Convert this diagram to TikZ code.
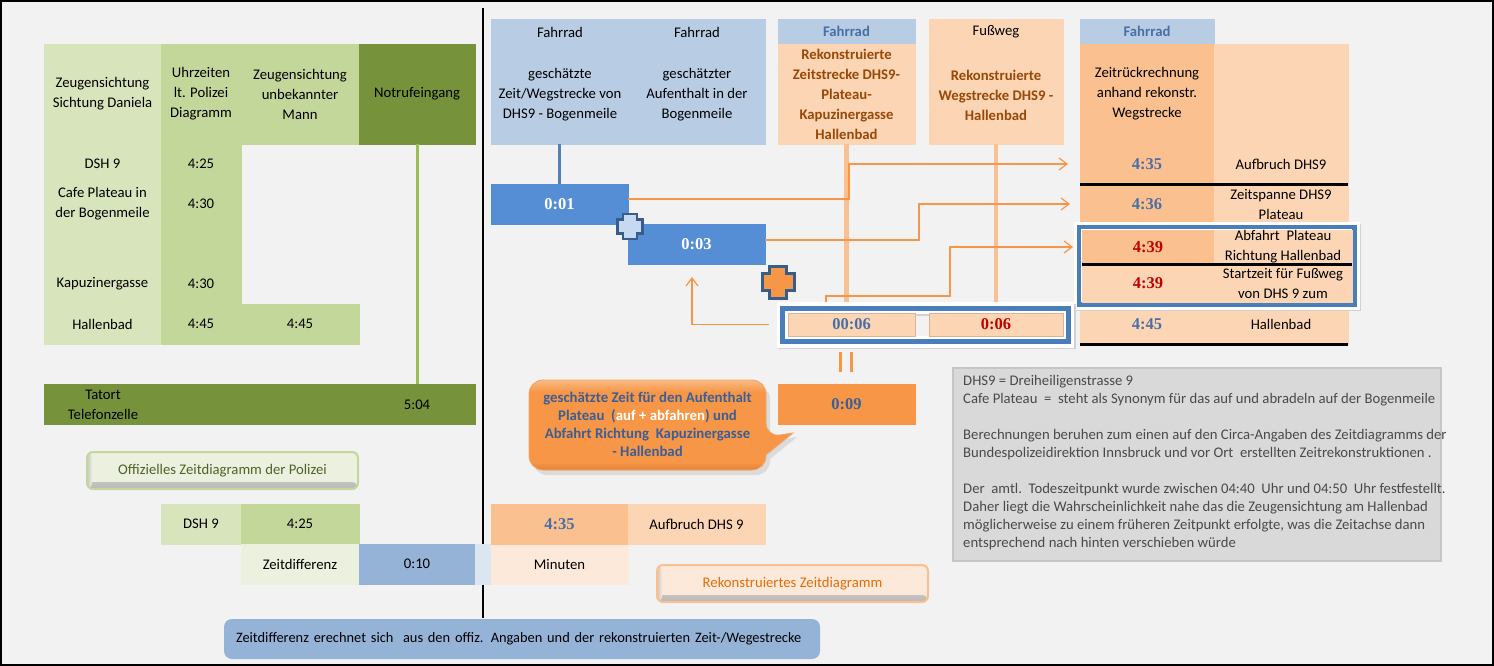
\documentclass[tikz,border=0pt]{standalone}
\usepackage{fontspec}
\setmainfont{Carlito}
\newfontfamily\numfont{Liberation Serif}
\usetikzlibrary{calc,arrows.meta}
\definecolor{bg}{HTML}{F2F2F2}
\definecolor{gA}{HTML}{D8E4BC}
\definecolor{gB}{HTML}{C4D79B}
\definecolor{gC}{HTML}{76933C}
\definecolor{gZ}{HTML}{EBF1DE}
\definecolor{gline}{HTML}{9BBB59}
\definecolor{olivet}{HTML}{4F6228}
\definecolor{bhead}{HTML}{B8CCE4}
\definecolor{bbox}{HTML}{558ED5}
\definecolor{bline}{HTML}{4F81BD}
\definecolor{bframe}{HTML}{4A7EBB}
\definecolor{bz}{HTML}{95B3D7}
\definecolor{bzl}{HTML}{DCE6F1}
\definecolor{pA}{HTML}{FCD5B4}
\definecolor{pB}{HTML}{FAC090}
\definecolor{pZ}{HTML}{FDE9D9}
\definecolor{pedge}{HTML}{D9B596}
\definecolor{orng}{HTML}{F79646}
\definecolor{orngt}{HTML}{E46C0A}
\definecolor{brownt}{HTML}{984807}
\definecolor{numblue}{HTML}{4A6FA5}
\definecolor{numred}{HTML}{C00000}
\definecolor{calltext}{HTML}{3A5F96}
\definecolor{noteg}{HTML}{D9D9D9}
\definecolor{noteb}{HTML}{C6C6C6}
\definecolor{notet}{HTML}{4A4A4A}
\definecolor{iconb}{HTML}{385D8A}
\definecolor{iconl}{HTML}{C6D9F1}
\newcommand\cell[7]{\node[cellbase,#6,minimum width={(#4)-(#2)},minimum height={(#5)-(#3)}] (#1) at ({((#2)+(#4))/2},{((#3)+(#5))/2}) {#7};}
\newcommand\plusico[5]{\draw[#5] ({#1-#4},{#2-#3}) -- ({#1+#4},{#2-#3}) -- ({#1+#4},{#2-#4}) -- ({#1+#3},{#2-#4}) -- ({#1+#3},{#2+#4}) -- ({#1+#4},{#2+#4}) -- ({#1+#4},{#2+#3}) -- ({#1-#4},{#2+#3}) -- ({#1-#4},{#2+#4}) -- ({#1-#3},{#2+#4}) -- ({#1-#3},{#2-#4}) -- ({#1-#4},{#2-#4}) -- cycle;}
\tikzset{
  cellbase/.style={rectangle, inner sep=0pt, outer sep=0pt, align=center, font=\fontsize{14.7}{20}\selectfont},
  cf/.style={fill=#1, draw=#1, line width=0.5pt},
  numtxt/.style={font=\numfont\bfseries\fontsize{16.5}{20}\selectfont},
  txt/.style={inner sep=0pt, outer sep=0pt, align=center, font=\fontsize{14.7}{20}\selectfont},
  browntxt/.style={text=brownt, font=\bfseries\fontsize{14.7}{20}\selectfont},
  fahrtxt/.style={text=numblue, font=\bfseries\fontsize{14.7}{20}\selectfont},
  oarr/.style={draw=orng, line width=1.2pt, -{Straight Barb[length=8pt,width=12pt]}},
  pline/.style={draw=pB, line width=4.5pt},
  blackrule/.style={draw=black, line width=3pt},
  labelbox/.style={rounded corners=6pt, line width=2pt, minimum width=271pt, minimum height=37pt, inner sep=0pt, font=\fontsize{14.7}{18}\selectfont}
}
\begin{document}
\begin{tikzpicture}[x=1pt,y=-1pt]
\useasboundingbox (0,0) rectangle (1494,666);
\fill[bg] (0,0) rectangle (1494,666);
\draw[line width=1.6pt] (0.8,0.8) rectangle (1493.2,665.2);

% divider
\draw[line width=2pt] (483,8) -- (483,618);

% ---------- left table ----------
\cell{zd}{44}{44}{161}{144}{cf=gA}{Zeugensichtung\\Sichtung Daniela}
\cell{uz}{161}{44}{241}{144}{cf=gB}{Uhrzeiten\\lt. Polizei\\Diagramm}
\cell{zu}{241}{44}{359}{144}{cf=gB}{Zeugensichtung\\unbekannter\\Mann}
\cell{nr}{359}{44}{475}{144}{cf=gC}{Notrufeingang}
\cell{r0a}{44}{144}{161}{184}{cf=gA}{DSH 9}
\cell{r1a}{44}{184}{161}{224}{cf=gA}{Cafe Plateau in\\der Bogenmeile}
\cell{r2a}{44}{224}{161}{264}{cf=gA}{}
\cell{r3a}{44}{264}{161}{304}{cf=gA}{Kapuzinergasse}
\cell{r4a}{44}{304}{161}{344}{cf=gA}{Hallenbad}
\cell{r0b}{161}{144}{241}{184}{cf=gB}{4:25}
\cell{r1b}{161}{184}{241}{224}{cf=gB}{4:30}
\cell{r2b}{161}{224}{241}{264}{cf=gB}{}
\cell{r3b}{161}{264}{241}{304}{cf=gB}{4:30}
\cell{r4b}{161}{304}{241}{344}{cf=gB}{4:45}
\cell{r4c}{241}{304}{359}{344}{cf=gB}{4:45}

\cell{tat}{44}{384}{475}{424}{cf=gC}{}
\node[txt] (tatT) at (103,405) {Tatort\\Telefonzelle};
\node[txt] (tat504) at (417,405) {5:04};
\draw[gline, line width=3pt] (nr.south) -- (nr.south |- tat.north);

\node[labelbox, fill=gZ, draw=gB, text=olivet,
  path picture={\shade[top color=gZ, bottom color=gray!55] ($(path picture bounding box.south west)+(0,-7)$) rectangle (path picture bounding box.south east);
    \shade[left color=gray!45, right color=gZ] (path picture bounding box.south west) rectangle ($(path picture bounding box.north west)+(5,0)$);}]
  (offz) at (222.5,470.5) {Offizielles Zeitdiagramm der Polizei};

\cell{dsh}{161}{504}{241}{544}{cf=gA}{DSH 9}
\cell{dsht}{241}{504}{359}{544}{cf=gB}{4:25}
\cell{zdiff}{241}{544}{359}{584}{cf=gZ}{Zeitdifferenz}
\cell{z010}{359}{544}{475}{584}{cf=bz}{0:10}
\cell{zstrip}{475}{544}{491}{584}{cf=bzl}{}
\cell{minu}{491}{544}{628}{584}{cf=pZ}{Minuten}
\cell{a435}{491}{504}{628}{544}{cf=pB,numtxt,text=numblue}{4:35}
\cell{aufb}{628}{504}{765}{544}{cf=pA}{Aufbruch DHS 9}

\node[fill=bz, rounded corners=8pt, inner sep=0pt, minimum width=596pt, minimum height=40pt,
  text width=572pt, align=left, font=\fontsize{14.4}{18}\selectfont] (bnote) at (522,639)
  {Zeitdifferenz erechnet sich\ \ aus den offiz. Angaben und der rekonstruierten Zeit-/Wegestrecke};

% ---------- right part ----------
\cell{hA}{491}{19}{765}{144}{cf=bhead}{}
\node[txt] (hA1) at (560,32) {Fahrrad};
\node[txt] (hA2) at (560,95) {geschätzte\\Zeit/Wegstrecke von\\DHS9 - Bogenmeile};
\node[txt] (hB1) at (697,32) {Fahrrad};
\node[txt] (hB2) at (697,95) {geschätzter\\Aufenthalt in der\\Bogenmeile};

\cell{h3a}{778}{19}{915}{44}{cf=bhead,fahrtxt}{Fahrrad}
\cell{h3b}{778}{44}{915}{144}{cf=pA,browntxt}{Rekonstruierte\\Zeitstrecke DHS9-\\Plateau-\\Kapuzinergasse\\Hallenbad}
\cell{h4}{929}{19}{1063}{144}{cf=pA}{}
\node[txt] (h4a) at (996,32) {Fußweg};
\node[txt,browntxt] (h4b) at (996,95) {Rekonstruierte\\Wegstrecke DHS9 -\\Hallenbad};

\cell{h5a}{1080}{19}{1214}{44}{cf=bhead,fahrtxt}{Fahrrad}
\cell{h5b}{1080}{44}{1214}{144}{cf=pB}{Zeitrückrechnung\\anhand rekonstr.\\Wegstrecke}
\cell{h6b}{1214}{44}{1348}{144}{cf=pA}{}
\cell{t435}{1080}{144}{1214}{184}{cf=pB,numtxt,text=numblue}{4:35}
\cell{l435}{1214}{144}{1348}{184}{cf=pA}{Aufbruch DHS9}
\cell{t436}{1080}{184}{1214}{224}{cf=pB,numtxt,text=numblue}{4:36}
\cell{l436}{1214}{184}{1348}{224}{cf=pA}{Zeitspanne DHS9\\Plateau}
\cell{t445}{1080}{304}{1214}{344}{cf=pA,numtxt,text=numblue}{4:45}
\cell{l445}{1214}{304}{1348}{344}{cf=pA}{Hallenbad}
\draw[blackrule] (t435.south west) -- (l435.south east);
\draw[blackrule] (t445.south west) -- (l445.south east);

% highlight frame B
\node[draw=bframe, line width=4.5pt, minimum width=275.5pt, minimum height=77.5pt, inner sep=0pt, outer sep=0pt,
  preaction={draw=gray!35, line width=10pt, transform canvas={shift={(1.5,1.5)}}},
  preaction={draw=white, line width=10pt}] (fB) at (1216.75,265.75) {};
\cell{t439a}{1082}{230}{1214}{264}{cf=pB,numtxt,text=numred}{4:39}
\cell{l439a}{1214}{230}{1352}{264}{cf=pA}{Abfahrt\ \ Plateau\\Richtung Hallenbad}
\cell{t439b}{1082}{264}{1214}{302}{cf=pA,numtxt,text=numred}{4:39}
\cell{l439b}{1214}{264}{1352}{302}{cf=pA}{Startzeit für Fußweg\\von DHS 9 zum}
\draw[blackrule] (t439a.south west) -- (l439a.south east);

% blue blocks
\cell{b01}{491}{184}{628}{224}{cf=bbox,numtxt,text=white}{0:01}
\cell{b03}{628}{224}{765}{264}{cf=bbox,numtxt,text=white}{0:03}
\draw[bline, line width=3pt] (b01.north) -- (b01.north |- hA.south);

% vertical light orange lines
\draw[pline] (h3b.south) -- ++(0,158);
\draw[pline] (h4.south) -- ++(0,158);

% highlight frame A
\node[draw=bframe, line width=5pt, minimum width=285.8pt, minimum height=33.5pt, inner sep=0pt, outer sep=0pt,
  preaction={draw=gray!35, line width=12pt, transform canvas={shift={(1.5,1.5)}}},
  preaction={draw=white, line width=12pt}] (fA) at (925.4,324.75) {};
\cell{c06a}{788}{313}{915}{336}{fill=pA,draw=pedge,line width=1pt,numtxt,text=numblue}{00:06}
\cell{c06b}{929}{313}{1063}{336}{fill=pA,draw=pedge,line width=1pt,numtxt,text=numred}{0:06}

% connectors
\draw[oarr] ($(b01.east)+(0,-5)$) -- ++(221,0) |- ($(t435.west)+(-12,0)$);
\draw[oarr] ($(b03.east)+(0,-4)$) -- ++(154,0) |- ($(t436.west)+(-10,0)$);
\coordinate (a3s) at ($(fA.north west)+(43.5,-6)$);
\draw[oarr] (a3s) -- ++(0,-6) -- ++(124,0) |- ($(t439a.west)+(-9,0)$);
\draw[oarr] ($(fA.west)+(-14,0)$) -| ($(b03.south west)+(64,13)$);

% plus icons
\plusico{630}{226.5}{12.5}{7}{fill=iconl, draw=iconb, line width=2.5pt}
\plusico{778}{282}{16}{8.5}{fill=orng, draw=iconb, line width=3pt}

% 0:09
\cell{c09}{778}{384}{915}{424}{cf=orng,numtxt,text=calltext}{0:09}
\draw[orng, line width=3pt] ($(c09.north)+(-6,-12)$) -- ++(0,-20);
\draw[orng, line width=3pt] ($(c09.north)+(5,-12)$) -- ++(0,-20);

% callout
\fill[gray!45, opacity=0.5] (533,430) [rounded corners=14pt] |- (770,385) -- (770,441) [sharp corners] -- (797,437) -- (770,459) [rounded corners=14pt] |- (533,475) -- cycle;
\begin{scope}
\path[clip] (529,425) [rounded corners=14pt] |- (766,380) -- (766,437) [sharp corners] -- (793,433) -- (766,455) [rounded corners=14pt] |- (529,470) -- cycle;
\fill[orng] (520,375) rectangle (800,475);
\shade[top color=pB, bottom color=orng] (520,378) rectangle (800,392);
\shade[top color=orng, bottom color={rgb,255:red,226;green,128;blue,52}] (520,462) rectangle (800,471);
\end{scope}
\draw[orngt!60, line width=0.8pt] (529,425) [rounded corners=14pt] |- (766,380) -- (766,437) [sharp corners] -- (793,433) -- (766,455) [rounded corners=14pt] |- (529,470) -- cycle;
\node[txt, text=calltext, font=\bfseries\fontsize{14.8}{18}\selectfont] (callout) at (647.5,424)
  {geschätzte Zeit für den Aufenthalt\\Plateau\ \ (\textcolor{white}{auf + abfahren}) und\\Abfahrt Richtung\ \ Kapuzinergasse\\- Hallenbad};

% Rekonstruiertes label
\node[labelbox, fill=pZ, draw=pB, text=orngt,
  path picture={\shade[top color=pZ, bottom color=gray!55] ($(path picture bounding box.south west)+(0,-7)$) rectangle (path picture bounding box.south east);
    \shade[left color=gray!45, right color=pZ] (path picture bounding box.south west) rectangle ($(path picture bounding box.north west)+(5,0)$);}]
  (rekz) at (792.5,583.5) {Rekonstruiertes Zeitdiagramm};

% gray note
\node[fill=noteg, draw=noteb, line width=2pt, minimum width=488pt, minimum height=193pt, inner sep=0pt] (note) at (1197,464.5) {};
\node[anchor=north west, inner sep=0pt, align=left, text=notet, font=\fontsize{14.7}{18}\selectfont] (notetxt) at (963,375)
 {DHS9 = Dreiheiligenstrasse 9\\
  Cafe Plateau\ \ =\ \ steht als Synonym für das auf und abradeln auf der Bogenmeile\\[18pt]
  Berechnungen beruhen zum einen auf den Circa-Angaben des Zeitdiagramms der\\
  Bundespolizeidirektion Innsbruck und vor Ort\ \ erstellten Zeitrekonstruktionen .\\[18pt]
  Der\ \ amtl.\ \ Todeszeitpunkt wurde zwischen 04:40\ \ Uhr und 04:50\ \ Uhr festfestellt.\\
  Daher liegt die Wahrscheinlichkeit nahe das die Zeugensichtung am Hallenbad\\
  möglicherweise zu einem früheren Zeitpunkt erfolgte, was die Zeitachse dann\\
  entsprechend nach hinten verschieben würde};
\end{tikzpicture}
\end{document}
